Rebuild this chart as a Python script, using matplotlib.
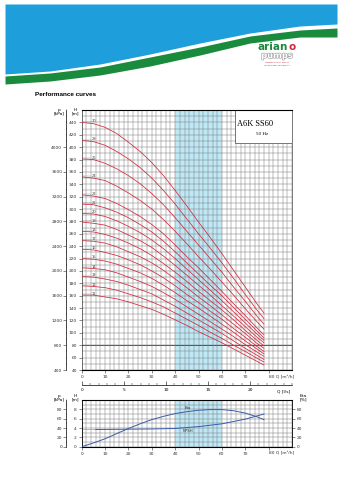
import matplotlib
matplotlib.use("Agg")
import matplotlib.pyplot as plt
import matplotlib.patheffects as pe
from matplotlib.patches import Rectangle
from matplotlib.ticker import MultipleLocator

# --- DATA ---
Q_PTS = [0, 5, 10, 15, 20, 25, 30, 35, 40, 45, 50, 55, 60, 65, 70, 75, 78]  # m3/h
STAGES = [30, 28, 26, 24, 22, 21, 20, 19, 18, 17, 16, 15, 14, 13, 12, 11]
HEADS = [
    [440, 438, 432, 422, 408, 393, 375, 354, 330, 305, 279, 254, 228, 201, 174, 147, 132],
    [411, 409, 403, 393, 381, 367, 350, 330, 308, 284, 260, 237, 213, 188, 162, 137, 123],
    [381, 380, 374, 365, 354, 341, 325, 307, 286, 264, 242, 220, 198, 174, 151, 127, 114],
    [352, 350, 346, 337, 326, 314, 300, 283, 264, 244, 223, 203, 182, 161, 139, 118, 106],
    [323, 321, 317, 309, 299, 288, 275, 260, 242, 223, 205, 186, 167, 147, 128, 108, 97],
    [308, 307, 302, 295, 286, 275, 263, 248, 231, 213, 195, 177, 160, 141, 122, 103, 92],
    [293, 292, 288, 281, 272, 262, 250, 236, 220, 203, 186, 169, 152, 134, 116, 98, 88],
    [279, 277, 274, 267, 258, 249, 238, 224, 209, 193, 177, 161, 144, 127, 110, 93, 84],
    [264, 263, 259, 253, 245, 236, 225, 212, 198, 183, 167, 152, 137, 121, 104, 88, 79],
    [249, 248, 245, 239, 231, 223, 213, 201, 187, 173, 158, 144, 129, 114, 99, 83, 75],
    [235, 234, 230, 225, 218, 210, 200, 189, 176, 162, 149, 135, 122, 107, 93, 78, 70],
    [220, 219, 216, 211, 204, 197, 188, 177, 165, 152, 140, 127, 114, 101, 87, 74, 66],
    [205, 204, 202, 197, 190, 183, 175, 165, 154, 142, 130, 118, 106, 94, 81, 69, 62],
    [191, 190, 187, 183, 177, 170, 163, 153, 143, 132, 121, 110, 99, 87, 75, 64, 57],
    [176, 175, 173, 169, 163, 157, 150, 142, 132, 122, 112, 101, 91, 80, 70, 59, 53],
    [161, 161, 158, 155, 150, 144, 138, 130, 121, 112, 102, 93, 84, 74, 64, 54, 48],
]
Q_ETA = [0, 5, 10, 15, 20, 25, 30, 35, 40, 45, 50, 55, 60, 65, 70, 75, 78]
ETA = [0, 8, 17, 28, 39, 49, 58, 65, 71, 75, 78, 79.5, 79.5, 77, 72, 64, 58]
Q_NPSH = [6, 10, 20, 30, 40, 50, 60, 70, 78]
NPSH = [3.7, 3.7, 3.75, 3.8, 3.9, 4.3, 4.9, 5.9, 7.0]
BAND = (40, 60)
MODEL = "A6K SS60"
FREQ = "50 Hz"

RED = "#d0283c"
BLUE = "#3a5aa8"
CYAN = "#bfe8f6"
GRID = "#7a7a7a"
FS = 3.2

fig = plt.figure(figsize=(3.42, 4.80), dpi=100)
W, Hpx = 342, 480


def box(x0, y0, x1, y1):
    return [x0 / W, 1 - y1 / Hpx, (x1 - x0) / W, (y1 - y0) / Hpx]


# --- header banner ---
bg = fig.add_axes([0, 0, 1, 1], zorder=-5)
bg.set_xlim(0, W)
bg.set_ylim(Hpx, 0)
bg.axis("off")
wave_x = [5, 50, 100, 150, 200, 250, 300, 337]
blue_low = [74, 71, 64, 54, 43, 33, 26, 24]
green_top = [76, 73, 67, 57, 47, 36, 30, 28]
green_low = [84, 81, 75, 66, 55, 43, 37, 37]
bg.fill_between(wave_x, 4, blue_low, color="#1e9fdc", lw=0)
bg.fill_between(wave_x, green_top, green_low, color="#1a8a3c", lw=0)
bg.text(288, 46.5, "arian", color="#1a8a3c", fontsize=7.5, fontweight="bold",
        ha="right", va="center", zorder=5)
bg.text(288.5, 46.5, "o", color="#d0283c", fontsize=7.5, fontweight="bold",
        ha="left", va="center", zorder=5)
t = bg.text(277, 55.5, "pumps", color="white", fontsize=6, ha="center",
            va="center", fontweight="bold", zorder=5)
t.set_path_effects([pe.withStroke(linewidth=0.8, foreground="#9a9a9a")])
bg.text(277, 62, "Nowatorstwo i jakość", color="#d0283c", fontsize=1.6,
        ha="center", va="center")
bg.text(277, 65.5, "Technology and quality", color="#555555", fontsize=1.6,
        ha="center", va="center")
bg.text(35, 95, "Performance curves", fontsize=4.6, fontweight="bold",
        ha="left", va="center", family="Liberation Sans")

# --- main chart ---
ax = fig.add_axes(box(81.7, 110, 292, 370))
ax.axvspan(*BAND, color=CYAN, lw=0, zorder=0)
ax.set_xlim(0, 90)
ax.set_ylim(40, 460)
ax.xaxis.set_minor_locator(MultipleLocator(2))
ax.yaxis.set_minor_locator(MultipleLocator(10))
ax.grid(True, which="both", color=GRID, lw=0.35, zorder=1)
ax.axhline(80, color="#333333", lw=0.6, zorder=1)
for s, h in zip(STAGES, HEADS):
    ax.plot(Q_PTS, h, color=RED, lw=0.55, zorder=3)
    ax.plot([0.5, 3.8], [h[0] + 1, h[0] + 1], color="#888888", lw=0.3, zorder=3)
    ax.text(4.2, h[0] + 2, str(s), fontsize=2.6, color="#444444", ha="left",
            va="center", zorder=4)
xt = list(range(0, 90, 10))
ax.set_xticks(xt)
ax.set_xticklabels([str(v) for v in xt[:-1]] + ["80 Q [m³/h]"])
ax.get_xticklabels()[-1].set_horizontalalignment("left")
ax.get_xticklabels()[-1].set_x(78.5)
ax.set_yticks(range(40, 460, 20))
ax.tick_params(axis="both", which="both", labelsize=FS, length=2, width=0.4,
               pad=1.5, colors="#333333")
ax.tick_params(which="minor", length=0)
for sp in ax.spines.values():
    sp.set_linewidth(0.5)
    sp.set_color("#444444")

# p axis on the left
axp = ax.twinx()
axp.yaxis.set_ticks_position("left")
axp.spines["left"].set_position(("outward", 11))
axp.spines["right"].set_visible(False)
axp.set_ylim(400, 4600)
axp.set_yticks(range(400, 4400, 400))
axp.yaxis.set_minor_locator(MultipleLocator(100))
axp.tick_params(axis="y", which="major", labelsize=FS, length=2, width=0.4,
                pad=1, colors="#333333")
axp.tick_params(axis="y", which="minor", length=1, width=0.3, direction="in")
axp.spines["left"].set_linewidth(0.5)
fig.text(59 / W, 1 - 112 / Hpx, "p\n[kPa]", fontsize=FS, ha="center", va="center",
         linespacing=0.9)
fig.text(75.5 / W, 1 - 112 / Hpx, "H\n[m]", fontsize=FS, ha="center", va="center",
         linespacing=0.9)

# model box
ax.add_patch(Rectangle((0.729, 0.873), 0.271, 0.127, transform=ax.transAxes,
                       fc="white", ec="#444444", lw=0.5, zorder=6))
ax.text(0.74, 0.946, MODEL, transform=ax.transAxes, fontsize=6,
        family="Liberation Serif", ha="left", va="center", zorder=7)
ax.text(0.86, 0.908, FREQ, transform=ax.transAxes, fontsize=3.6,
        family="Liberation Serif", ha="center", va="center", zorder=7)

# l/s axis
axl = fig.add_axes(box(81.7, 384.5, 292, 385))
axl.set_xlim(0, 25)
axl.set_yticks([])
for k in ("left", "right", "top"):
    axl.spines[k].set_visible(False)
axl.spines["bottom"].set_linewidth(0.5)
axl.set_xticks(range(0, 25, 5))
axl.set_xticklabels(["0", "5", "10", "15", "20"])
axl.xaxis.set_minor_locator(MultipleLocator(1))
axl.tick_params(axis="x", which="major", direction="in", length=3, width=0.4,
                labelsize=FS, pad=2)
axl.tick_params(axis="x", which="minor", direction="in", length=1.5, width=0.3)
fig.text(277 / W, 1 - 391.5 / Hpx, "Q [l/s]", fontsize=FS, ha="left", va="center")

# --- lower chart: NPSH / Eta ---
ab = fig.add_axes(box(81.7, 400, 292, 446.7))
ab.axvspan(*BAND, color=CYAN, lw=0, zorder=0)
ab.set_xlim(0, 90)
ab.set_ylim(0, 10)
ab.xaxis.set_minor_locator(MultipleLocator(2))
ab.yaxis.set_minor_locator(MultipleLocator(1))
ab.grid(True, which="both", color=GRID, lw=0.35, zorder=1)
ab.set_xticks(xt)
ab.set_xticklabels([str(v) for v in xt[:-1]] + ["80 Q [m³/h]"])
ab.get_xticklabels()[-1].set_horizontalalignment("left")
ab.get_xticklabels()[-1].set_x(78.5)
ab.set_yticks(range(0, 10, 2))
ab.tick_params(axis="both", which="both", labelsize=FS, length=2, width=0.4,
               pad=1.5, colors="#333333")
ab.tick_params(which="minor", length=0)
for sp in ab.spines.values():
    sp.set_linewidth(0.5)
    sp.set_color("#444444")
ab.plot([0, Q_NPSH[0]], [NPSH[0], NPSH[0]], color="#9a9a9a", lw=0.5, zorder=2)
ab.plot(Q_NPSH, NPSH, color=BLUE, lw=0.7, zorder=3)
ab.text(43, 3.3, "NPSH", fontsize=2.8, color="#333333", ha="left", va="center")

abe = ab.twinx()
abe.set_ylim(0, 100)
abe.set_yticks(range(0, 100, 20))
abe.plot(Q_ETA, ETA, color=BLUE, lw=0.7, zorder=3)
abe.text(44, 83, "Eta", fontsize=2.8, color="#333333", ha="left", va="center")
abe.tick_params(axis="y", labelsize=FS, length=2, width=0.4, pad=1.5,
                colors="#333333")
for sp in abe.spines.values():
    sp.set_linewidth(0.5)
fig.text(300 / W, 1 - 398 / Hpx, "Eta\n[%]", fontsize=FS, ha="left", va="center",
         linespacing=0.9)

abp = ab.twinx()
abp.yaxis.set_ticks_position("left")
abp.spines["left"].set_position(("outward", 11))
abp.spines["right"].set_visible(False)
abp.set_ylim(0, 100)
abp.set_yticks(range(0, 100, 20))
abp.yaxis.set_minor_locator(MultipleLocator(10))
abp.tick_params(axis="y", which="major", labelsize=FS, length=2, width=0.4,
                pad=1, colors="#333333")
abp.tick_params(axis="y", which="minor", length=1, width=0.3, direction="in")
abp.spines["left"].set_linewidth(0.5)
fig.text(59 / W, 1 - 398 / Hpx, "p\n[kPa]", fontsize=FS, ha="center", va="center",
         linespacing=0.9)
fig.text(75.5 / W, 1 - 398 / Hpx, "H\n[m]", fontsize=FS, ha="center", va="center",
         linespacing=0.9)

fig.savefig("out.png", dpi=100)
